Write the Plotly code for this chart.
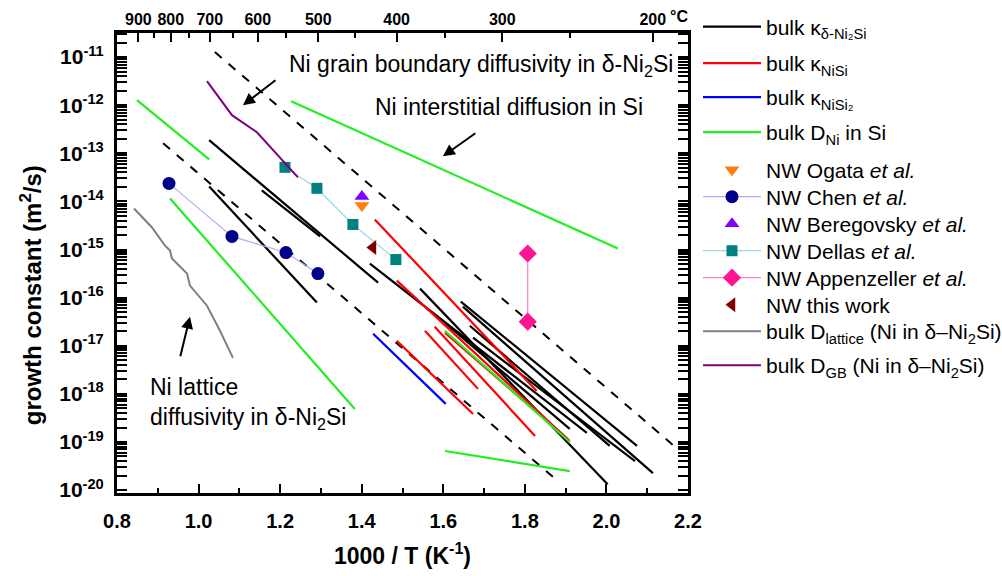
import plotly.graph_objects as go

# ---------------- data ----------------
# straight Arrhenius segments: (x0, y0, x1, y1), x = 1000/T (1/K), y = growth constant (m^2/s)
kappa_ni2si = [
    (1.026, 1.87e-13, 1.440, 2.05e-16),
    (1.155, 1.69e-14, 1.298, 1.87e-15),
    (1.026, 2.05e-14, 1.290, 7.9e-17),
    (1.420, 5.1e-16, 1.952, 1.54e-19),
    (1.543, 1.54e-16, 2.003, 1.33e-20),
    (1.643, 8.3e-17, 2.075, 8.3e-20),
    (1.648, 6.5e-17, 2.114, 2.26e-20),
    (1.673, 1.47e-17, 2.070, 4.0e-20),
    (1.604, 3.0e-17, 1.910, 1.87e-19),
    (1.665, 2.6e-17, 2.008, 8.3e-20),
]
kappa_nisi = [
    (1.432, 4.22e-15, 1.829, 1.15e-18),
    (1.486, 2.26e-16, 1.910, 1.05e-19),
    (1.486, 1.27e-17, 1.673, 3.83e-19),
    (1.555, 2.05e-17, 1.685, 1.27e-18),
    (1.579, 2.49e-17, 1.825, 1.33e-19),
    (1.604, 1.87e-17, 1.905, 1.15e-19),
]
kappa_nisi2 = [
    (1.428, 1.78e-17, 1.606, 6.19e-19),
]
d_ni_in_si = [
    (0.849, 1.27e-12, 1.026, 7.5e-14),
    (1.227, 1.21e-12, 2.028, 1.05e-15),
    (0.930, 1.15e-14, 1.383, 4.87e-19),
    (1.604, 6.5e-20, 1.910, 2.49e-20),
    (1.604, 2.05e-17, 1.910, 1.0e-19),
]
guide_dashed = [
    (1.040, 1.27e-11, 2.175, 7.1e-20),
    (0.913, 1.62e-13, 1.881, 1.54e-20),
]

ogata_x = [1.4005]
ogata_y = [8.26e-15]
chen_x = [0.9275, 1.0819, 1.2142, 1.2926]
chen_y = [2.37e-14, 1.87e-15, 8.66e-16, 3.16e-16]
beregovsky_x = [1.4005]
beregovsky_y = [1.27e-14]
dellas_x = [1.2118, 1.2902, 1.3784, 1.4838]
dellas_y = [5.1e-14, 1.87e-14, 3.32e-15, 6.19e-16]
appenzeller_x = [1.807, 1.807]
appenzeller_y = [8.26e-16, 3.16e-17]
thiswork_x = [1.4275]
thiswork_y = [1.1e-15]
lattice_x = [0.8417, 0.8858, 0.9176, 0.9299, 0.9348, 0.9716, 0.9789, 1.0034, 1.0206, 1.0525, 1.0843]
lattice_y = [7.14e-15, 2.87e-15, 1.21e-15, 9.5e-16, 6.5e-16, 3.16e-16, 1.78e-16, 1.0e-16, 6.8e-17, 2.05e-17, 5.6e-18]
gb_x = [1.0206, 1.0819, 1.1431, 1.1995, 1.2436]
gb_y = [3.16e-12, 6.19e-13, 2.74e-13, 8.26e-14, 3.16e-14]

# axis ticks
x_ticks = [0.8, 1.0, 1.2, 1.4, 1.6, 1.8, 2.0, 2.2]
y_exponents = [-11, -12, -13, -14, -15, -16, -17, -18, -19, -20]
temps_major = [900, 800, 700, 600, 500, 400, 300, 200]
temps_minor = [850, 750, 650, 550, 450, 350, 250]

# legend box tops (px from figure top), one box per entry
legend_tops = [6.5, 43, 77, 112, 149.5, 176.5, 203.5, 230.5, 257.5, 284.5, 311, 345]


def join(segs):
    xs, ys = [], []
    for x0, y0, x1, y1 in segs:
        xs += [x0, x1, None]
        ys += [y0, y1, None]
    return xs, ys


FONT = "Liberation Sans, Arial, sans-serif"
fig = go.Figure()

gx, gy = join(guide_dashed)
fig.add_trace(go.Scatter(x=gx, y=gy, mode="lines", showlegend=False, hoverinfo="skip",
                         line=dict(color="black", width=2, dash="dash")))

traces = []
for segs, name, col in [
    (kappa_ni2si, "bulk κ<sub>δ-Ni₂Si</sub>", "black"),
    (kappa_nisi, "bulk κ<sub>NiSi</sub>", "#ff0000"),
    (kappa_nisi2, "bulk κ<sub>NiSi₂</sub>", "#0000ff"),
    (d_ni_in_si, "bulk D<sub>Ni</sub> in Si", "#22ee22"),
]:
    xs, ys = join(segs)
    traces.append(go.Scatter(x=xs, y=ys, mode="lines", name=name, line=dict(color=col, width=2.2)))

traces += [
    go.Scatter(x=ogata_x, y=ogata_y, mode="markers", name="NW Ogata <i>et al.</i>",
               marker=dict(symbol="triangle-down", size=13, color="#ff7f0e")),
    go.Scatter(x=chen_x, y=chen_y, mode="lines+markers", name="NW Chen <i>et al.</i>",
               line=dict(color="#b0b0ee", width=1.2),
               marker=dict(symbol="circle", size=13, color="#00008b")),
    go.Scatter(x=beregovsky_x, y=beregovsky_y, mode="markers", name="NW Beregovsky <i>et al.</i>",
               marker=dict(symbol="triangle-up", size=13, color="#8000ff")),
    go.Scatter(x=dellas_x, y=dellas_y, mode="lines+markers", name="NW Dellas <i>et al.</i>",
               line=dict(color="#a0d8d8", width=1.2),
               marker=dict(symbol="square", size=11, color="#008080")),
    go.Scatter(x=appenzeller_x, y=appenzeller_y, mode="lines+markers", name="NW Appenzeller <i>et al.</i>",
               line=dict(color="#ff80c0", width=1.2),
               marker=dict(symbol="diamond", size=14, color="#ff1493")),
    go.Scatter(x=thiswork_x, y=thiswork_y, mode="markers", name="NW this work",
               marker=dict(symbol="triangle-left", size=13, color="#800000")),
    go.Scatter(x=lattice_x, y=lattice_y, mode="lines", name="bulk D<sub>lattice</sub> (Ni in δ–Ni<sub>2</sub>Si)",
               line=dict(color="#808080", width=2)),
    go.Scatter(x=gb_x, y=gb_y, mode="lines", name="bulk D<sub>GB</sub> (Ni in δ–Ni<sub>2</sub>Si)",
               line=dict(color="#800080", width=2)),
]

LEG_X = 1.0175
PLOT_TOP, PLOT_BOTTOM = 33, 493
legend_layout = {}
for i, tr in enumerate(traces):
    key = "legend" if i == 0 else f"legend{i + 1}"
    tr.legend = key
    fig.add_trace(tr)
    legend_layout[key] = dict(
        x=LEG_X, y=(PLOT_BOTTOM - legend_tops[i]) / (PLOT_BOTTOM - PLOT_TOP),
        xanchor="left", yanchor="top", bgcolor="rgba(0,0,0,0)",
        font=dict(family=FONT, size=21, color="black"), tracegroupgap=0, itemwidth=58)

# invisible trace to activate the top temperature axis
fig.add_trace(go.Scatter(x=[1.5], y=[1e-15], xaxis="x2", mode="markers", showlegend=False,
                         hoverinfo="skip", marker=dict(opacity=0)))

y_minor = [m * 10.0 ** e for e in range(-21, -10) for m in range(2, 10)]

fig.update_layout(
    width=1002, height=576,
    margin=dict(l=117, r=314, t=33, b=83, autoexpand=False),
    plot_bgcolor="white", paper_bgcolor="white",
    font=dict(family=FONT, color="black"),
    xaxis=dict(range=[0.8, 2.2], tickvals=x_ticks, ticktext=[f"{v:.1f}" for v in x_ticks],
               ticks="inside", ticklen=9, tickwidth=2, tickcolor="black",
               minor=dict(ticks="inside", ticklen=5, tickwidth=2, dtick=0.1, tick0=0.8, tickcolor="black"),
               showline=True, linewidth=3, linecolor="black", mirror=True,
               showgrid=False, zeroline=False, ticklabelstandoff=8,
               tickfont=dict(family=FONT, size=20, color="black", weight="bold"),
               title=dict(text="<b>1000 / T (K<sup>-1</sup>)</b>", font=dict(family=FONT, size=23), standoff=17)),
    xaxis2=dict(overlaying="x", side="top", range=[0.8, 2.2],
                tickvals=[1000 / (t + 273.15) for t in temps_major],
                ticktext=[str(t) for t in temps_major],
                ticks="inside", ticklen=9, tickwidth=2, tickcolor="black",
                minor=dict(tickmode="array", tickvals=[1000 / (t + 273.15) for t in temps_minor],
                           ticks="inside", ticklen=5, tickwidth=2, tickcolor="black"),
                showgrid=False, zeroline=False, showline=False, ticklabelstandoff=4,
                tickfont=dict(family=FONT, size=16, color="black", weight="bold")),
    yaxis=dict(type="log", range=[-20.06, -10.5],
               tickvals=[10.0 ** e for e in y_exponents],
               ticktext=[f"10<sup>{e}</sup>" for e in y_exponents],
               ticks="inside", ticklen=10, tickwidth=2, tickcolor="black",
               minor=dict(tickmode="array", tickvals=y_minor, ticks="inside", ticklen=5, tickwidth=2,
                          tickcolor="black"),
               showline=True, linewidth=3, linecolor="black", mirror="allticks",
               showgrid=False, zeroline=False, ticklabelstandoff=6,
               tickfont=dict(family=FONT, size=21, color="black", weight="bold")),
    showlegend=True,
    **legend_layout,
)

# y-axis title (as rotated text, placed like the original)
fig.add_annotation(x=-0.1506, y=0.430, xref="paper", yref="paper", xanchor="center", yanchor="middle",
                   textangle=-90, text="<b>growth constant (m<sup>2</sup>/s)</b>", showarrow=False,
                   font=dict(family=FONT, size=24, color="black"))

ann_font = dict(family=FONT, size=23, color="black")
fig.add_annotation(x=1.2167, y=-11.167, xref="x", yref="y", xanchor="left", yanchor="middle",
                   text="Ni grain boundary diffusivity in δ-Ni<sub>2</sub>Si", showarrow=False, font=ann_font)
fig.add_annotation(x=1.7616, y=-12.042, xref="x", yref="y", xanchor="center", yanchor="middle",
                   text="Ni interstitial diffusion in Si", showarrow=False, font=ann_font)
fig.add_annotation(x=0.876, y=-18.2, xref="x", yref="y", xanchor="left", yanchor="middle", align="left",
                   text="Ni lattice<br>diffusivity in δ-Ni<sub>2</sub>Si", showarrow=False, font=ann_font)
for hx, hy, tx, ty in [(1.1088, -12.0, 1.1922, -11.458),
                       (1.599, -13.0625, 1.6824, -12.5625),
                       (0.9789, -16.396, 0.9544, -17.25)]:
    fig.add_annotation(x=hx, y=hy, ax=tx, ay=ty, xref="x", yref="y", axref="x", ayref="y",
                       text="", showarrow=True, arrowhead=2, arrowsize=1.2, arrowwidth=2, arrowcolor="black")
fig.add_annotation(x=2.152, y=1.0, xref="x", yref="paper", xanchor="left", yanchor="bottom", yshift=6,
                   text="<b>°C</b>", showarrow=False, font=dict(family=FONT, size=16, color="black"))

fig.write_html("out.html")
